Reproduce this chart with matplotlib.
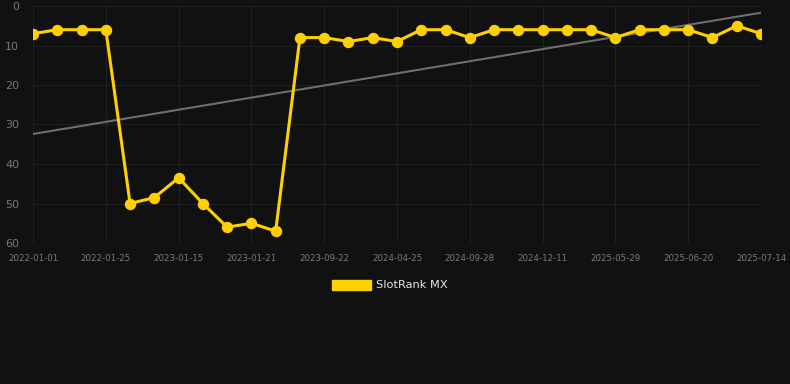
import numpy as np
import matplotlib
matplotlib.use("Agg")
import matplotlib.pyplot as plt
from matplotlib.patches import Patch

# rank per observation (lower = better)
ranks = [7, 6, 6, 6, 50, 48.5, 43.5, 50, 56, 55, 57, 8, 8, 9, 8, 9,
         6, 6, 8, 6, 6, 6, 6, 6, 8, 6, 6, 6, 8, 5, 7]
tick_dates = ['2022-01-01', '2022-01-25', '2023-01-15', '2023-01-21', '2023-09-22',
              '2024-04-25', '2024-09-28', '2024-12-11', '2025-05-29', '2025-06-20',
              '2025-07-14']
trend_ends = [32.4, 1.7]

bg = '#111111'
gold = '#ffd000'

fig = plt.figure(figsize=(7.9, 3.84), dpi=100, facecolor=bg)
ax = fig.add_axes([33/790, 1-243/384, (761-33)/790, (243-6)/384])
ax.set_facecolor(bg)

x = np.arange(len(ranks))
ax.plot([x[0], x[-1]], trend_ends, color='#6e6e6e', lw=1.5, zorder=2)
ax.plot(x, ranks, color=gold, lw=2.2, marker='o', ms=7.2, zorder=3)

ax.set_xlim(0, len(ranks) - 1)
ax.set_ylim(60, 0)
ax.set_yticks(range(0, 61, 10))
ax.set_xticks(x[::3])
ax.set_xticklabels(tick_dates)
ax.tick_params(axis='x', colors='#7a7a7a', labelsize=6.2, length=0, pad=8)
ax.tick_params(axis='y', colors='#7a7a7a', labelsize=8, length=0, pad=10)
ax.grid(True, color='#202020', lw=0.8)
for s in ax.spines.values():
    s.set_visible(False)

handle = Patch(facecolor=gold, edgecolor=gold)
fig.legend([handle], ['SlotRank MX'], loc='center', bbox_to_anchor=(390/790, 1-285/384),
           frameon=False, labelcolor='#e6e6e6', fontsize=8.2,
           handlelength=3.4, handleheight=1.0, handletextpad=0.45)

fig.savefig('out.png', dpi=100, facecolor=bg)
